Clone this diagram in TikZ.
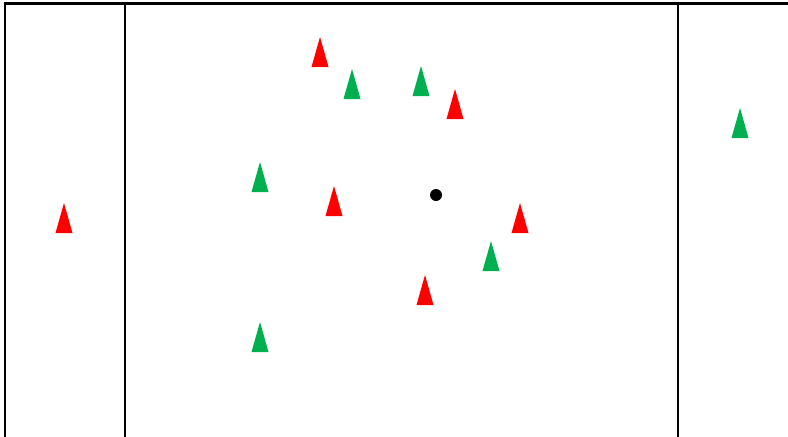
\documentclass[tikz,border=0pt]{standalone}
\usepackage{tikz}
\definecolor{conered}{RGB}{255, 0, 0}
\definecolor{conegreen}{RGB}{0, 176, 80}
\tikzset{
fieldline/.style={
  draw=black,
  line width=1.7pt
},
redcone/.style={
  fill=conered
},
greencone/.style={
  fill=conegreen
},
spot/.style={
  fill=black
}
}

\begin{document}
\begin{tikzpicture}[x=0.75pt, y=-0.75pt]
    \useasboundingbox (0,0) rectangle (788,436);

    % Field outline and zone lines
    \draw[fieldline] (5,440) -- (5,3.5) -- (792,3.5);
    \draw[fieldline] (125,3) -- (125,440);
    \draw[fieldline] (678,3) -- (678,440);

    % Centre spot
    \fill[spot] (436,195) circle (6);

    % Red cones (apex x, apex y)
    \foreach \x/\y in {320/37, 455/89, 334/186, 520/203, 425/275, 64/203}
      \fill[redcone] (\x,\y) -- ++(-8.5,30) -- ++(17,0) -- cycle;

    % Green cones
    \foreach \x/\y in {352/69, 421/66, 740/108, 260/162, 491/241, 260/322}
      \fill[greencone] (\x,\y) -- ++(-8.5,30) -- ++(17,0) -- cycle;

  \end{tikzpicture}
\end{document}
